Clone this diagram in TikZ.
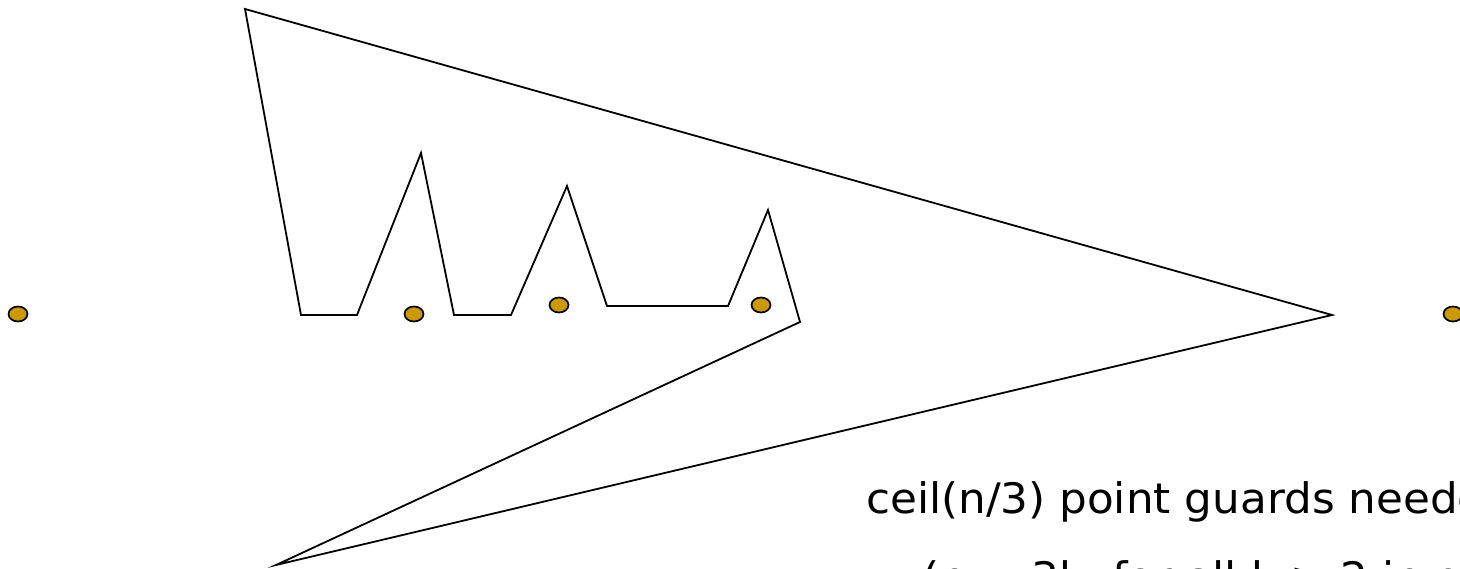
\documentclass[tikz,border=0pt]{standalone}
\usepackage{fontspec}
\setmainfont{DejaVu Sans}[FakeStretch=1.04]
\usetikzlibrary{shapes.geometric}
\definecolor{guardgold}{HTML}{CC9900}
\tikzset{
  wall/.style={draw=black, line width=1.8pt, line join=miter},
  guard/.style={ellipse, draw=black, fill=guardgold, line width=1.7pt, minimum width=19pt, minimum height=15pt, inner sep=0pt},
  caption/.style={anchor=base west, inner sep=0pt, font=\fontsize{42}{50}\selectfont}
}
\begin{document}
\begin{tikzpicture}[x=1pt,y=-1pt]
\useasboundingbox (0,0) rectangle (1460,569);
% polygon vertices
\coordinate (A) at (245,9);
\coordinate (B) at (1332,315);
\coordinate (C) at (276,565);
\coordinate (D) at (800,322);
\coordinate (E) at (768,210);
\coordinate (F) at (728,306);
\coordinate (G) at (607,306);
\coordinate (H) at (567,186);
\coordinate (I) at (511,315);
\coordinate (J) at (454,315);
\coordinate (K) at (421,153);
\coordinate (L) at (357,315);
\coordinate (M) at (301,315);
\draw[wall] (A) -- (B) -- (C) -- (D) -- (E) -- (F) -- (G) -- (H) -- (I) -- (J) -- (K) -- (L) -- (M) -- cycle;
% guards
\node[guard] (g1) at (18,314) {};
\node[guard] (g2) at (414,314) {};
\node[guard] (g3) at (559,305) {};
\node[guard] (g4) at (761,305) {};
\node[guard] (g5) at (1453,314) {};
% text
\node[caption] (t1) at (866,513) {ceil(n/3) point guards needed};
\node[caption] (t2) at (922,592) {(n = 3k, for all k ≥ 2 in general)};
\end{tikzpicture}
\end{document}
